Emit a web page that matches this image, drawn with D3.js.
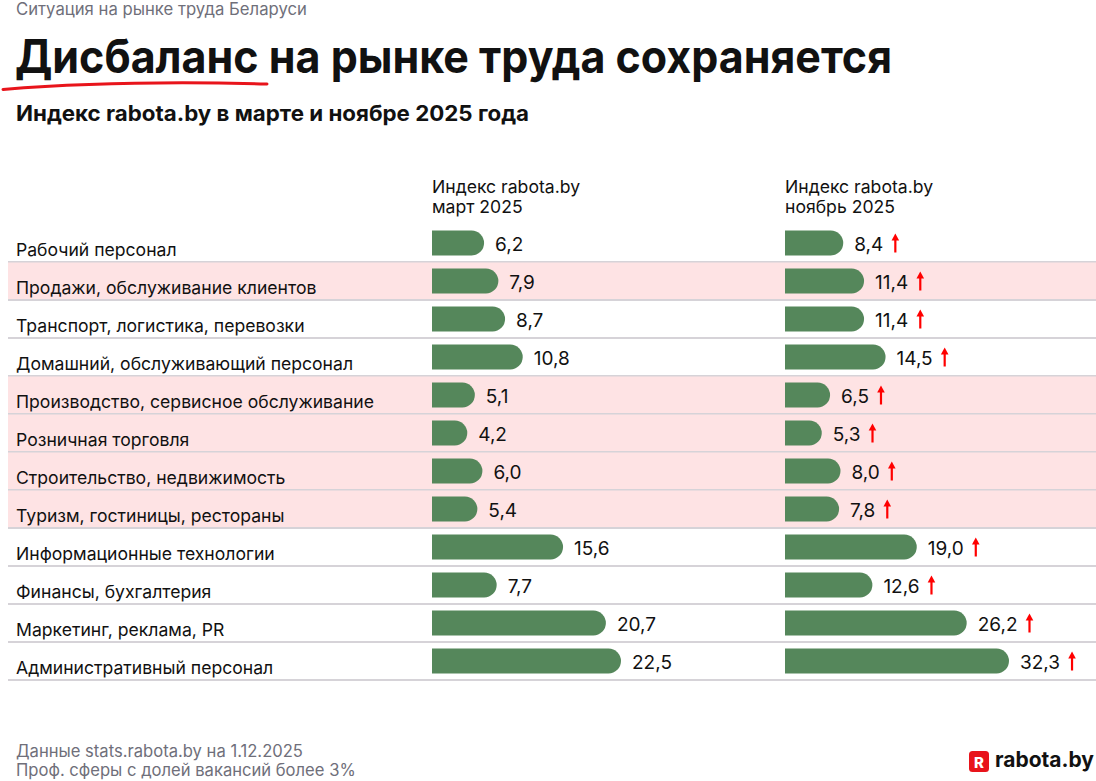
<!DOCTYPE html>
<html>
<head>
<meta charset="utf-8">
<script src="https://cdn.jsdelivr.net/npm/d3@7"></script>
<style>
  body { margin: 0; background: #fff; }
  text { font-family: Inter, "Noto Sans", sans-serif; }
</style>
</head>
<body>
<div id="chart"></div>
<script>
// data
const categories = [
  "Рабочий персонал",
  "Продажи, обслуживание клиентов",
  "Транспорт, логистика, перевозки",
  "Домашний, обслуживающий персонал",
  "Производство, сервисное обслуживание",
  "Розничная торговля",
  "Строительство, недвижимость",
  "Туризм, гостиницы, рестораны",
  "Информационные технологии",
  "Финансы, бухгалтерия",
  "Маркетинг, реклама, PR",
  "Административный персонал",
];
const march = [6.2, 7.9, 8.7, 10.8, 5.1, 4.2, 6.0, 5.4, 15.6, 7.7, 20.7, 22.5];
const november = [8.4, 11.4, 11.4, 14.5, 6.5, 5.3, 8.0, 7.8, 19.0, 12.6, 26.2, 32.3];
// rows marked pink in the original
const highlighted = [
  "Продажи, обслуживание клиентов",
  "Производство, сервисное обслуживание",
  "Розничная торговля",
  "Строительство, недвижимость",
  "Туризм, гостиницы, рестораны",
];
const columnTitles = [
  ["Индекс rabota.by", "март 2025"],
  ["Индекс rabota.by", "ноябрь 2025"],
];

const width = 1096;
const height = 781;
const green = "#55875b";
const pink = "#fee3e4";
const sep = "#d6d3d8";

const svg = d3
  .select("#chart")
  .append("svg")
  .attr("width", width)
  .attr("height", height);

// header
svg.append("text")
  .attr("x", 16).attr("y", 15)
  .attr("font-size", 16.7).attr("fill", "#6f6f7a")
  .text("Ситуация на рынке труда Беларуси");

svg.append("text")
  .attr("x", 15).attr("y", 73)
  .attr("font-size", 46).attr("font-weight", 700).attr("fill", "#111")
  .attr("textLength", 877).attr("lengthAdjust", "spacingAndGlyphs")
  .text("Дисбаланс на рынке труда сохраняется");

// red hand-drawn underline
svg.append("path")
  .attr("d", "M3,89.5 Q120,80 267,84")
  .attr("fill", "none")
  .attr("stroke", "#e8141b")
  .attr("stroke-width", 3)
  .attr("stroke-linecap", "round");

svg.append("text")
  .attr("x", 16).attr("y", 121)
  .attr("font-size", 21.5).attr("font-weight", 700).attr("fill", "#111")
  .attr("textLength", 513).attr("lengthAdjust", "spacingAndGlyphs")
  .text("Индекс rabota.by в марте и ноябре 2025 года");

// rows
const rowTop = 224.5;
const rowH = 38;
const y = d3.scaleBand()
  .domain(categories)
  .range([rowTop, rowTop + rowH * categories.length])
  .paddingInner(0);

const barH = 25;
const col1 = 432;
const col2 = 785;
const x1 = d3.scaleLinear().domain([0, 22.5]).range([0, 189]);
const x2 = d3.scaleLinear().domain([0, 32.3]).range([0, 224]);

const rows = svg.append("g")
  .selectAll("g")
  .data(categories)
  .join("g")
  .attr("transform", (d) => `translate(0,${y(d)})`);

rows.append("rect")
  .attr("x", 8).attr("y", 0)
  .attr("width", width - 8).attr("height", rowH)
  .attr("fill", (d) => (highlighted.includes(d) ? pink : "none"));

rows.append("rect")
  .attr("x", 8).attr("y", rowH - 1.5)
  .attr("width", width - 8).attr("height", 2)
  .attr("fill", sep);

rows.append("text")
  .attr("x", 16).attr("y", rowH / 2 + 12)
  .attr("font-size", 17.6).attr("fill", "#111")
  .text((d) => d);

const fmt = (v) => v.toFixed(1).replace(".", ",");

// rounded-right bar
function barPath(len) {
  const r = Math.min(barH / 2, len);
  const top = (rowH - barH) / 2 - 0.5;
  return `M0,${top} H${len - r} A${r},${r} 0 0 1 ${len - r},${top + barH}` +
    ` H0 Z`;
}

function drawColumn(values, scale, x0, arrows) {
  const g = svg.append("g").attr("transform", `translate(${x0},0)`);
  const cell = g.selectAll("g")
    .data(categories.map((c, i) => ({ c, v: values[i], prev: march[i] })))
    .join("g")
    .attr("transform", (d) => `translate(0,${y(d.c)})`);

  cell.append("path")
    .attr("d", (d) => barPath(scale(d.v)))
    .attr("fill", green);

  const lbl = cell.append("text")
    .attr("x", (d) => scale(d.v) + 11)
    .attr("y", rowH / 2 + 7)
    .attr("font-size", 19).attr("fill", "#111")
    .text((d) => fmt(d.v));

  if (arrows) {
    lbl.each(function (d) {
      if (d.v <= d.prev) return;
      const ax = scale(d.v) + 11 + this.getComputedTextLength() + 12;
      const p = d3.select(this.parentNode);
      p.append("line")
        .attr("x1", ax).attr("x2", ax)
        .attr("y1", rowH / 2 - 5).attr("y2", rowH / 2 + 9)
        .attr("stroke", "#f00").attr("stroke-width", 2.2);
      p.append("path")
        .attr("d", `M${ax - 3.8},${rowH / 2 - 3} L${ax},${rowH / 2 - 10} L${ax + 3.8},${rowH / 2 - 3} Z`)
        .attr("fill", "#f00");
    });
  }
}

drawColumn(march, x1, col1, false);
drawColumn(november, x2, col2, true);

// column headers
[col1, col2].forEach((cx, i) => {
  const t = svg.append("text")
    .attr("x", cx).attr("y", 193)
    .attr("font-size", 17.6).attr("fill", "#111");
  columnTitles[i].forEach((line, j) => {
    t.append("tspan").attr("x", cx).attr("dy", j ? 20 : 0).text(line);
  });
});

// footer
const foot = svg.append("text")
  .attr("x", 16).attr("y", 757)
  .attr("font-size", 16.6).attr("fill", "#6f6f7a");
foot.append("tspan").attr("x", 16).text("Данные stats.rabota.by на 1.12.2025");
foot.append("tspan").attr("x", 16).attr("dy", 19).text("Проф. сферы с долей вакансий более 3%");

// logo
const logo = svg.append("g").attr("transform", "translate(969,751)");
logo.append("rect")
  .attr("width", 20).attr("height", 21).attr("rx", 3.5)
  .attr("fill", "#e8141b");
logo.append("text")
  .attr("x", 10).attr("y", 16.5)
  .attr("text-anchor", "middle")
  .attr("font-size", 15).attr("font-weight", 800).attr("fill", "#fff")
  .text("R");
logo.append("text")
  .attr("x", 26).attr("y", 16)
  .attr("font-size", 21).attr("font-weight", 700).attr("fill", "#111")
  .attr("textLength", 99).attr("lengthAdjust", "spacingAndGlyphs")
  .text("rabota.by");
</script>
</body>
</html>
